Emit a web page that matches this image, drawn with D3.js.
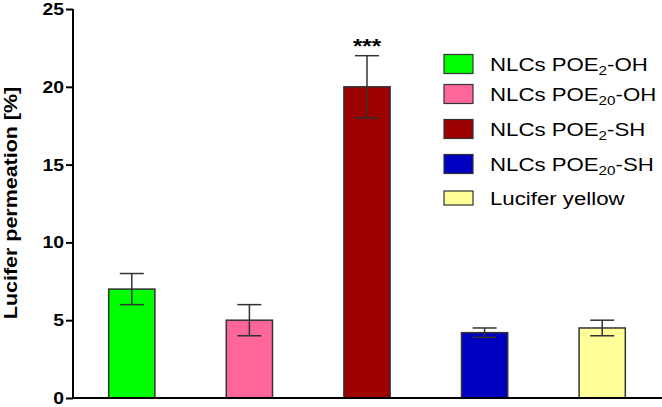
<!DOCTYPE html>
<html><head><meta charset="utf-8">
<script src="https://cdn.jsdelivr.net/npm/d3@7"></script>
<style>body{margin:0;background:#fff}svg{display:block}text{font-family:"Liberation Sans",Arial,sans-serif}</style>
</head><body>
<svg id="c" width="662" height="407"></svg>
<script>
const categories = ["NLCs POE2-OH","NLCs POE20-OH","NLCs POE2-SH","NLCs POE20-SH","Lucifer yellow"];
const legendMain = ["NLCs POE","NLCs POE","NLCs POE","NLCs POE","Lucifer yellow"];
const legendSub = ["2","20","2","20",""];
const legendTail = ["-OH","-OH","-SH","-SH",""];
const values = [7, 5, 20, 4.2, 4.5];
const errors = [1, 1, 2, 0.3, 0.5];
const colors = ["#00ff00","#ff6699","#9c0000","#0000c0","#ffff99"];
const yTicks = [0,5,10,15,20,25];
const signif = ["","","***","",""];

const svg = d3.select("#c");
const x = d3.scaleBand().domain(categories).range([73, 661]).paddingInner(0.607).paddingOuter(0.3035);
const y = d3.scaleLinear().domain([0,25]).range([398, 9]);

// bars
svg.selectAll("rect.bar").data(categories).enter().append("rect")
  .attr("x", d => x(d)).attr("width", x.bandwidth())
  .attr("y", (d,i) => y(values[i])).attr("height", (d,i) => y(0) - y(values[i]))
  .attr("fill", (d,i) => colors[i]).attr("stroke", "#333").attr("stroke-width", 1.5);

// error bars
const eb = svg.selectAll("g.eb").data(categories).enter().append("g")
  .attr("stroke", "#333").attr("stroke-width", 1.5);
eb.append("line").attr("x1", d => x(d)+x.bandwidth()/2).attr("x2", d => x(d)+x.bandwidth()/2)
  .attr("y1", (d,i) => y(values[i]-errors[i])).attr("y2", (d,i) => y(values[i]+errors[i]));
eb.append("line").attr("x1", d => x(d)+x.bandwidth()/2-12).attr("x2", d => x(d)+x.bandwidth()/2+12)
  .attr("y1", (d,i) => y(values[i]+errors[i])).attr("y2", (d,i) => y(values[i]+errors[i]));
eb.append("line").attr("x1", d => x(d)+x.bandwidth()/2-12).attr("x2", d => x(d)+x.bandwidth()/2+12)
  .attr("y1", (d,i) => y(values[i]-errors[i])).attr("y2", (d,i) => y(values[i]-errors[i]));

// significance
svg.selectAll("text.sig").data(categories).enter().append("text")
  .attr("transform", (d,i) => `translate(${x(d)+x.bandwidth()/2},${y(values[i]+errors[i]) - 3}) scale(1.15,1)`)
  .attr("text-anchor","middle").attr("font-size", 21).attr("font-weight","bold")
  .text((d,i) => signif[i]);

// y axis
const ya = svg.append("g").attr("transform","translate(73,0)")
  .call(d3.axisLeft(y).tickValues(yTicks).tickSize(7).tickPadding(2));
ya.select(".domain").attr("stroke","#000").attr("stroke-width",2).attr("d","M0,9V399");
ya.selectAll(".tick line").attr("stroke","#000").attr("stroke-width",2);
ya.selectAll(".tick text").attr("font-size",17).attr("font-weight","bold").attr("fill","#000")
  .attr("x",0).attr("transform","translate(-9,0) scale(1.14,1)")
  .style("font-family","'Liberation Sans',Arial,sans-serif");

// x axis baseline
const xa = svg.append("g").attr("transform","translate(0,398)")
  .call(d3.axisBottom(x).tickSize(0).tickFormat(""));
xa.select(".domain").attr("stroke","#000").attr("stroke-width",2).attr("d","M72,0H662");

// y label
svg.append("text").attr("transform","translate(17,203) rotate(-90) scale(1.16,1)")
  .attr("text-anchor","middle").attr("font-size",18.5).attr("font-weight","bold")
  .text("Lucifer permeation [%]");

// legend
const legY = [64, 94, 129, 164, 198];
const lg = svg.selectAll("g.leg").data(categories).enter().append("g")
  .attr("transform", (d,i) => `translate(444,${legY[i]})`);
lg.append("rect").attr("x",0).attr("y",(d,i)=> i===4 ? -7 : -9.5).attr("width",29).attr("height",(d,i)=> i===4 ? 14 : 19)
  .attr("fill",(d,i)=>colors[i]).attr("stroke","#333").attr("stroke-width",1.2);
const lt = lg.append("text").attr("transform","translate(46,7) scale(1.17,1)").attr("font-size",19).attr("fill","#000");
lt.append("tspan").text((d,i)=>legendMain[i]);
lt.append("tspan").attr("dy",4).attr("font-size",13).text((d,i)=>legendSub[i]);
lt.append("tspan").attr("dy",(d,i)=> legendSub[i] ? -4 : 0).text((d,i)=>legendTail[i]);
</script>
</body></html>
